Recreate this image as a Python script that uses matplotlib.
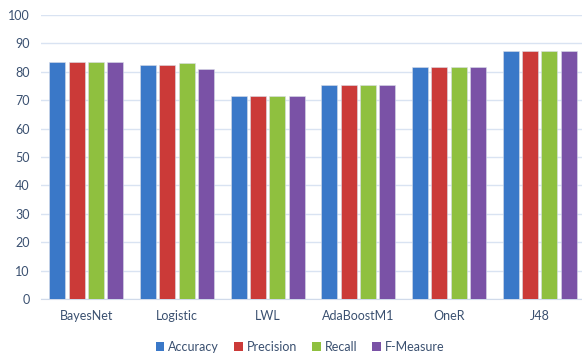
import numpy as np
import matplotlib.pyplot as plt
from matplotlib.patches import Patch

plt.rcParams['font.family'] = ['Lato', 'DejaVu Sans']

classifiers = ['BayesNet', 'Logistic', 'LWL', 'AdaBoostM1', 'OneR', 'J48']
metrics = ['Accuracy', 'Precision', 'Recall', 'F-Measure']
accuracy = [83.4, 82.2, 71.3, 75.4, 81.7, 87.2]
precision = [83.4, 82.2, 71.3, 75.4, 81.7, 87.2]
recall = [83.4, 82.9, 71.3, 75.4, 81.7, 87.2]
f_measure = [83.4, 80.9, 71.3, 75.4, 81.7, 87.2]

colors = ['#3A78C8', '#CB3A38', '#8FC03F', '#7A52A6']
text_color = '#3A5070'

fig = plt.figure(figsize=(5.82, 3.58), dpi=100, facecolor='white')
ax = fig.add_axes([41 / 582, 1 - 299.3 / 358, 544 / 582, (299.3 - 14.7) / 358])

x = np.arange(len(classifiers))
pitch = 0.214
width = 0.176
for i, (vals, c) in enumerate(zip([accuracy, precision, recall, f_measure], colors)):
    ax.bar(x + (i - 1.5) * pitch, vals, width, color=c, zorder=3,
           edgecolor='#D8DDE8', linewidth=0.4)

ax.set_xlim(-0.5, len(classifiers) - 0.5)
ax.set_ylim(0, 100)
ax.set_yticks(range(0, 101, 10))
ax.set_xticks(x)
ax.set_xticklabels(classifiers)
ax.grid(axis='y', color='#D9E3F2', linewidth=1, zorder=0)
for s in ['top', 'right', 'left']:
    ax.spines[s].set_visible(False)
ax.spines['bottom'].set_color('#D0DAEA')
ax.tick_params(axis='both', length=0, labelsize=9, colors=text_color)
ax.tick_params(axis='x', pad=8)
ax.tick_params(axis='y', pad=8)

handles = [Patch(facecolor=c, edgecolor='none') for c in colors]
fig.legend(handles, metrics, loc='center', bbox_to_anchor=(300 / 582, 1 - 347 / 358),
           ncol=4, frameon=False, fontsize=9, labelcolor=text_color,
           handlelength=0.7, handleheight=0.7, handletextpad=0.3, columnspacing=1.2)

plt.savefig('out.png', facecolor='white')
